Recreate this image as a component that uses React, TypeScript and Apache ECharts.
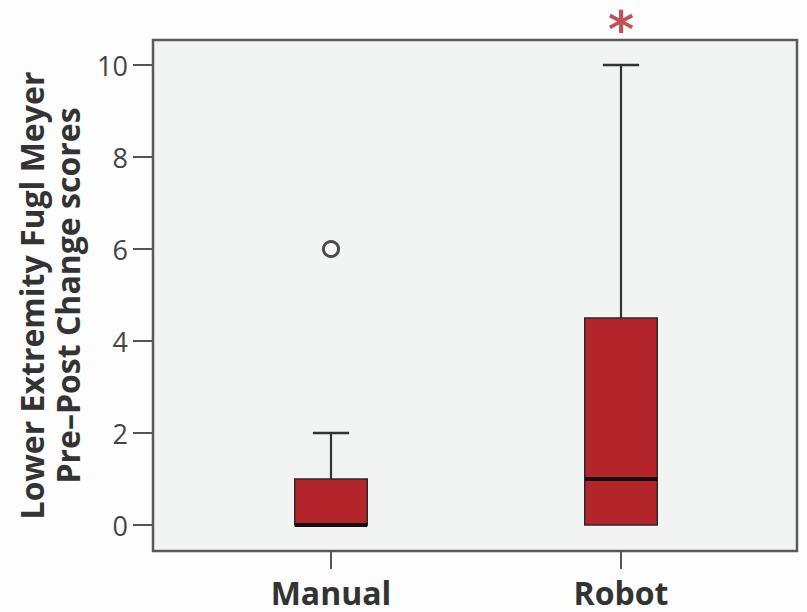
import React, { useEffect, useRef } from "react";
import * as echarts from "echarts";

const categories = ["Manual", "Robot"];
const mins = [0, 0];
const q1s = [0, 0];
const medians = [0, 1];
const q3s = [1, 4.5];
const maxs = [2, 10];
const outliers: [string, number][] = [["Manual", 6]];
const significance: [string, number][] = [["Robot", 10.76]];
const yTickValues = [0, 2, 4, 6, 8, 10];
const yTitle = "Lower Extremity Fugl Meyer\nPre\u2013Post Change scores";

const FONT = "Open Sans";

export default function App() {
  const ref = useRef<HTMLDivElement>(null);
  useEffect(() => {
    if (!ref.current) return;
    const chart = echarts.init(ref.current, null, { renderer: "svg" });
    const catIndex = categories.map((_, i) => i);
    const boxData = categories.map((_, i) => [i, mins[i], q1s[i], medians[i], q3s[i], maxs[i]]);
    const outlierData = outliers.map(([c, v]) => [categories.indexOf(c), v]);
    const sigData = significance.map(([c, v]) => [categories.indexOf(c), v]);
    const option: any = {
      animation: false,
      backgroundColor: "#fdfdfd",
      grid: {
        left: 153,
        top: 40,
        width: 644,
        height: 511,
        show: true,
        backgroundColor: "#f2f3f3",
        borderColor: "#5a5a5a",
        borderWidth: 2.5,
      },
      xAxis: {
        type: "value",
        min: -0.6138,
        max: 1.6069,
        axisLine: { show: false, onZero: false },
        axisTick: {
          show: true,
          customValues: catIndex,
          length: 18,
          lineStyle: { color: "#555", width: 2 },
        },
        axisLabel: {
          customValues: catIndex,
          formatter: (v: number) => categories[Math.round(v)] ?? "",
          fontFamily: FONT,
          fontSize: 32,
          fontWeight: "bold",
          color: "#333",
          margin: 25,
        },
        splitLine: { show: false },
      },
      yAxis: {
        type: "value",
        min: -0.5652,
        max: 10.5435,
        axisLine: { show: false, onZero: false },
        axisTick: {
          show: true,
          customValues: yTickValues,
          length: 20,
          lineStyle: { color: "#555", width: 2 },
        },
        axisLabel: {
          customValues: yTickValues,
          fontFamily: FONT,
          fontSize: 27,
          color: "#444",
          margin: 25,
        },
        splitLine: { show: false },
        name: yTitle,
        nameLocation: "middle",
        nameGap: 68,
        nameTextStyle: { fontFamily: FONT, fontSize: 32, fontWeight: "bold", color: "#333", lineHeight: 36 },
      },
      series: [
        {
          type: "custom",
          data: boxData,
          z: 3,
          renderItem: (params: any, api: any) => {
            const idx = api.value(0);
            const vMin = api.value(1);
            const vQ1 = api.value(2);
            const vMed = api.value(3);
            const vQ3 = api.value(4);
            const vMax = api.value(5);
            const bw = api.size([1, 0])[0] * 0.25;
            const pMin = api.coord([idx, vMin]);
            const pQ1 = api.coord([idx, vQ1]);
            const pMed = api.coord([idx, vMed]);
            const pQ3 = api.coord([idx, vQ3]);
            const pMax = api.coord([idx, vMax]);
            const cx = pMed[0];
            const lineStyle = { stroke: "#333", lineWidth: 2.2 };
            const children: any[] = [];
            if (vMax > vQ3) {
              children.push({ type: "line", shape: { x1: cx, y1: pQ3[1], x2: cx, y2: pMax[1] }, style: lineStyle });
              children.push({ type: "line", shape: { x1: cx - bw / 4, y1: pMax[1], x2: cx + bw / 4, y2: pMax[1] }, style: { stroke: "#333", lineWidth: 2.5 } });
            }
            if (vMin < vQ1) {
              children.push({ type: "line", shape: { x1: cx, y1: pQ1[1], x2: cx, y2: pMin[1] }, style: lineStyle });
              children.push({ type: "line", shape: { x1: cx - bw / 4, y1: pMin[1], x2: cx + bw / 4, y2: pMin[1] }, style: { stroke: "#333", lineWidth: 2.5 } });
            }
            children.push({
              type: "rect",
              shape: { x: cx - bw / 2, y: pQ3[1], width: bw, height: pQ1[1] - pQ3[1] },
              style: { fill: "#b3252b", stroke: "#2a2a2a", lineWidth: 1.5 },
            });
            children.push({
              type: "line",
              shape: { x1: cx - bw / 2, y1: pMed[1], x2: cx + bw / 2, y2: pMed[1] },
              style: { stroke: "#111", lineWidth: 4 },
            });
            return { type: "group", children };
          },
        },
        {
          type: "scatter",
          data: outlierData,
          symbol: "circle",
          symbolSize: 15,
          z: 4,
          itemStyle: { color: "#fafafa", borderColor: "#4a4a4a", borderWidth: 3, opacity: 1 },
        },
        {
          type: "scatter",
          data: sigData,
          symbolSize: 0,
          clip: false,
          z: 4,
          label: {
            show: true,
            position: "inside",
            formatter: "*",
            fontFamily: "DejaVu Sans",
            fontWeight: "bold",
            fontSize: 50,
            lineHeight: 34,
            color: "#b3252b",
          },
        },
      ],
    };
    chart.setOption(option);
    return () => chart.dispose();
  }, []);
  return <div ref={ref} style={{ width: 807, height: 612, position: "absolute", left: 0, top: 0 }} />;
}
